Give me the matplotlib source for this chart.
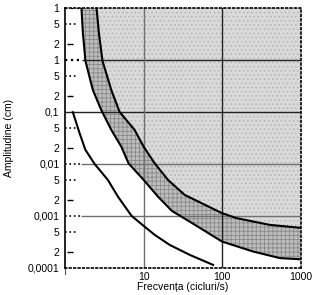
import numpy as np
import matplotlib.pyplot as plt
from matplotlib.ticker import NullLocator

plt.rcParams['font.family'] = ['Liberation Sans', 'DejaVu Sans']
plt.rcParams['hatch.linewidth'] = 0.6

# curba exterioara (limita zonei punctate)
frecv_a = [2.52, 2.7, 3.0, 3.88, 4.95, 7.68, 10, 13.8, 20.4, 33.3, 99, 152, 403, 1000]
ampl_a = [10, 3.3, 0.96, 0.265, 0.1, 0.0451, 0.0215, 0.0103, 0.00492, 0.00253,
          0.00113, 0.000904, 0.000671, 0.000588]
# curba din mijloc (limita de jos a benzii hasurate)
frecv_b = [1.62, 1.69, 1.82, 2.26, 2.89, 3.88, 5.2, 6.44, 10, 15.2, 22.8, 38.5,
           99, 247, 540, 1000]
ampl_b = [10, 3.3, 0.96, 0.265, 0.109, 0.0451, 0.0215, 0.0102, 0.00492, 0.00235,
          0.00125, 0.000776, 0.000321, 0.000206, 0.000154, 0.000146]
# curba de jos
frecv_c = [1.26, 1.53, 1.82, 2.38, 3.51, 4.71, 7.03, 10, 13.8, 21.4, 38.5, 76.4]
ampl_c = [0.0987, 0.0395, 0.0186, 0.01, 0.00492, 0.00235, 0.001, 0.000643,
          0.000432, 0.000277, 0.000178, 0.000114]

dec_y = [10, 1, 0.1, 0.01, 0.001, 0.0001]
dec_y_txt = ['1', '1', '0,1', '0,01', '0,001', '0,0001']
x_ticks = [1, 10, 100, 1000]
x_txt = ['', '10', '100', '1000']

fig = plt.figure(figsize=(3.2, 2.95), dpi=100)
ax = fig.add_axes([0.203, 0.092, 0.7375, 0.881])
ax.set_xscale('log')
ax.set_yscale('log')
ax.set_xlim(1, 1000)
ax.set_ylim(0.0001, 10)

# zonele
ax.fill(frecv_a + [1000], ampl_a + [10], facecolor='#d9d9d9', edgecolor='#b5b5b5',
        hatch='....', linewidth=0, zorder=1)
ax.fill(frecv_b + frecv_a[::-1], ampl_b + ampl_a[::-1], facecolor='#bdbdbd',
        edgecolor='#8a8a8a', hatch='++++', linewidth=0, zorder=1)

# grila
yt = ax.get_yaxis_transform()
ax.hlines([0.1], 0, 1, transform=yt, color='#222222', lw=1, zorder=2)
ax.hlines([1, 10], 0, 0.072, transform=yt, color='black', lw=1.6, linestyles=':', zorder=3)
ax.hlines([1], 0.072, 1, transform=yt, color='#222222', lw=1, zorder=2)
ax.hlines([0.01, 0.001], 0, 0.07, transform=yt, color='black', lw=1.2, linestyles=':', zorder=3)
ax.hlines([0.01, 0.001], 0.07, 1, transform=yt, color='#707070', lw=1, zorder=2)
ax.axvline(10, color='#707070', lw=1, zorder=2)
ax.axvline(100, color='#222222', lw=1, zorder=2)

# liniute pe axa y
minor_5 = [5, 0.5, 0.05, 0.005, 0.0005]
minor_2 = [2, 0.2, 0.02, 0.002, 0.0002]
ax.hlines(minor_5, 0, 0.045, transform=yt, color='black', lw=1.2, linestyles=':', zorder=3)
ax.hlines(minor_2, 0.008, 0.035, transform=yt, color='black', lw=1, zorder=3)
ax.plot([1, 1], [-0.025, 0], transform=ax.get_xaxis_transform(), color='#555555',
        lw=0.8, clip_on=False)

# curbele
for f, a in [(frecv_a, ampl_a), (frecv_b, ampl_b), (frecv_c, ampl_c)]:
    ax.plot(f, a, color='black', lw=1.5, zorder=4, solid_joinstyle='round')

# chenar
for s in ['top', 'right', 'bottom']:
    ax.spines[s].set_linestyle(':')
    ax.spines[s].set_linewidth(1.2)
ax.spines['left'].set_linewidth(1.2)

ax.set_yticks(dec_y, dec_y_txt)
ax.set_yticks(minor_5 + minor_2, ['5'] * 5 + ['2'] * 5, minor=True)
ax.set_xticks(x_ticks, x_txt)
ax.xaxis.set_minor_locator(NullLocator())
ax.tick_params(which='both', length=0, labelsize=7.5, pad=3)
ax.tick_params(axis='y', which='both', pad=4)

ax.set_xlabel('Frecvența (cicluri/s)', fontsize=7.5, labelpad=0)
ax.set_ylabel('Amplitudine (cm)', fontsize=7.5, labelpad=10)

plt.savefig('out.png', dpi=100)
